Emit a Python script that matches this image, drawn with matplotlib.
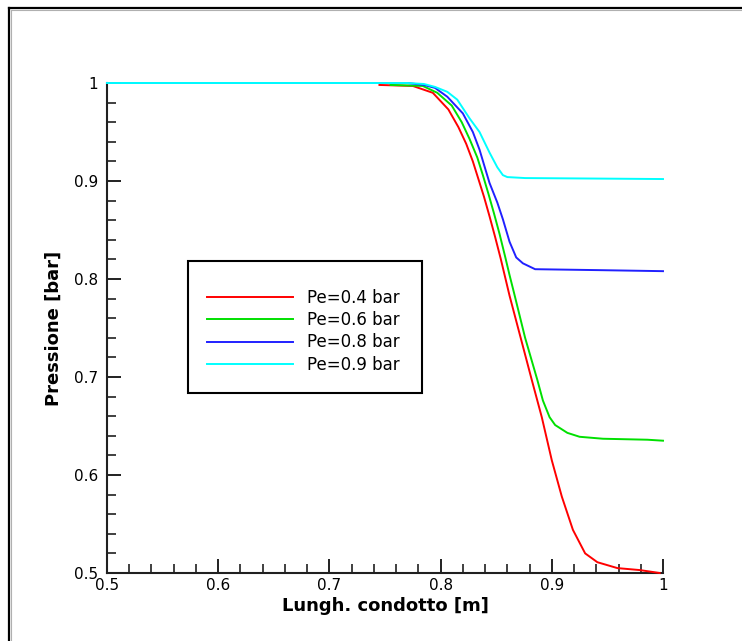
import matplotlib
matplotlib.use("Agg")
import matplotlib.pyplot as plt
from matplotlib.patches import Rectangle
from matplotlib.lines import Line2D
from matplotlib.ticker import MultipleLocator, FuncFormatter

plt.rcParams['font.family'] = ['DejaVu Sans']

# Pressure along the duct for four outlet pressures
labels = ["Pe=0.4 bar", "Pe=0.6 bar", "Pe=0.8 bar", "Pe=0.9 bar"]
colors = ["#ff0000", "#00e000", "#2020ff", "#00ffff"]

x_pe04 = [0.745, 0.775, 0.793, 0.807, 0.816, 0.823, 0.829, 0.834, 0.839, 0.844,
          0.849, 0.854, 0.858, 0.862, 0.872, 0.882, 0.891, 0.900, 0.909, 0.919,
          0.930, 0.941, 0.959, 0.979, 0.997]
p_pe04 = [0.998, 0.997, 0.990, 0.973, 0.955, 0.938, 0.920, 0.902, 0.884, 0.864,
          0.843, 0.821, 0.802, 0.783, 0.740, 0.697, 0.659, 0.615, 0.578, 0.544,
          0.520, 0.511, 0.505, 0.503, 0.500]

x_pe06 = [0.755, 0.784, 0.797, 0.810, 0.819, 0.826, 0.833, 0.838, 0.843, 0.848,
          0.853, 0.858, 0.862, 0.866, 0.876, 0.887, 0.892, 0.898, 0.903, 0.914,
          0.925, 0.946, 0.986, 1.000]
p_pe06 = [0.998, 0.997, 0.990, 0.977, 0.960, 0.943, 0.924, 0.906, 0.887, 0.867,
          0.846, 0.823, 0.804, 0.786, 0.740, 0.697, 0.676, 0.659, 0.651, 0.643,
          0.639, 0.637, 0.636, 0.635]

x_pe08 = [0.500, 0.770, 0.785, 0.795, 0.806, 0.820, 0.829, 0.835, 0.840, 0.844,
          0.851, 0.856, 0.862, 0.868, 0.874, 0.885, 0.945, 1.000]
p_pe08 = [1.000, 1.000, 0.998, 0.995, 0.986, 0.969, 0.950, 0.932, 0.913, 0.898,
          0.878, 0.861, 0.838, 0.822, 0.816, 0.810, 0.809, 0.808]

x_pe09 = [0.500, 0.770, 0.785, 0.795, 0.806, 0.815, 0.826, 0.835, 0.844, 0.851,
          0.856, 0.860, 0.876, 1.000]
p_pe09 = [1.000, 1.000, 0.999, 0.996, 0.991, 0.983, 0.964, 0.950, 0.929, 0.914,
          0.906, 0.904, 0.903, 0.902]

series = [(x_pe04, p_pe04), (x_pe06, p_pe06), (x_pe08, p_pe08), (x_pe09, p_pe09)]

W, H = 742, 641
fig = plt.figure(figsize=(W / 100, H / 100), dpi=100)
ax = fig.add_axes([107 / W, (H - 573) / H, 556 / W, 490 / H])

for (xs, ps), c, lab in zip(series, colors, labels):
    ax.plot(xs, ps, color=c, lw=1.4, label=lab, clip_on=False, zorder=3)

ax.set_xlim(0.5, 1.0)
ax.set_ylim(0.5, 1.0)

for s in ("top", "right"):
    ax.spines[s].set_visible(False)
for s in ("left", "bottom"):
    ax.spines[s].set_linewidth(1.5)
    ax.spines[s].set_color("#202020")

fmt = FuncFormatter(lambda v, pos: "%g" % round(v, 3))
ax.xaxis.set_major_locator(MultipleLocator(0.1))
ax.xaxis.set_minor_locator(MultipleLocator(0.02))
ax.yaxis.set_major_locator(MultipleLocator(0.1))
ax.yaxis.set_minor_locator(MultipleLocator(0.02))
ax.xaxis.set_major_formatter(fmt)
ax.yaxis.set_major_formatter(fmt)

ax.tick_params(which="both", direction="in", color="#202020", labelsize=11)
ax.tick_params(which="major", length=10, width=1.4)
ax.tick_params(which="minor", length=6.5, width=1.2)
ax.tick_params(axis="x", which="both", pad=3.5)
ax.tick_params(axis="y", which="both", pad=6.5)

ax.set_xlabel("Lungh. condotto [m]", fontsize=13, fontweight="bold",
              va="center")
ax.xaxis.set_label_coords(0.5, -0.068)
ax.set_ylabel("Pressione [bar]", fontsize=13, fontweight="bold",
              va="center", ha="center", rotation_mode="anchor")
ax.yaxis.set_label_coords(-0.095, 0.5)

# legend box
fig.add_artist(Rectangle((188 / W, (H - 393) / H), (422 - 188) / W, (393 - 261) / H,
                         transform=fig.transFigure, fill=True, fc="white",
                         ec="black", lw=1.5, zorder=1))
fs = 12
fs_px = fs * 100 / 72
leg = fig.legend(loc="upper left", bbox_to_anchor=(207 / W, (H - 289) / H),
                 frameon=False, fontsize=fs, borderpad=0, borderaxespad=0,
                 handlelength=86 / fs_px, handletextpad=14 / fs_px,
                 labelspacing=0.25)
for ln in leg.get_lines():
    ln.set_linewidth(1.4)

# window-style frame along top and left edges
fig.add_artist(Line2D([9 / W, 9 / W], [0, (H - 8) / H], transform=fig.transFigure,
                      color="black", lw=1.6))
fig.add_artist(Line2D([9 / W, 1], [(H - 8) / H, (H - 8) / H], transform=fig.transFigure,
                      color="black", lw=1.6))
fig.add_artist(Line2D([11 / W, 11 / W], [0, (H - 10) / H], transform=fig.transFigure,
                      color="#b0b0b0", lw=0.8))
fig.add_artist(Line2D([11 / W, 1], [(H - 10) / H, (H - 10) / H], transform=fig.transFigure,
                      color="#b0b0b0", lw=0.8))

fig.savefig("out.png", dpi=100)
